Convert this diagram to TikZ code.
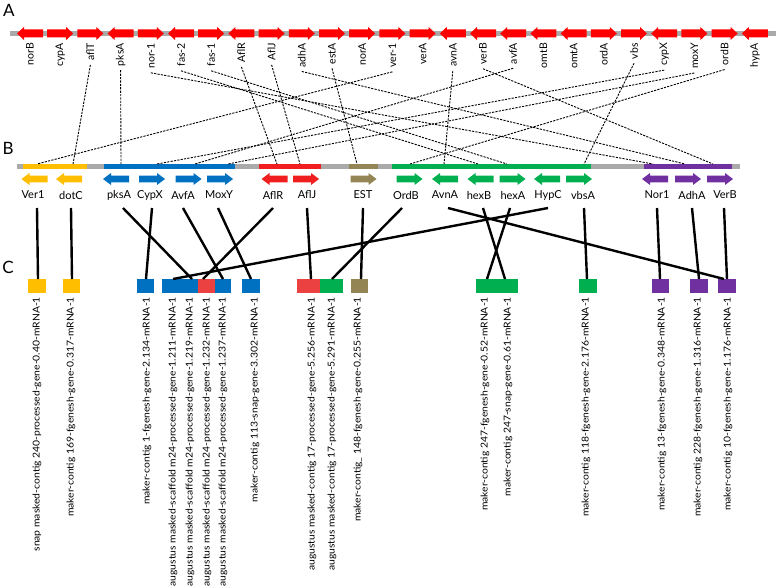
\documentclass[tikz,border=0pt]{standalone}
\usepackage{fontspec}
\setmainfont{Lato}
\usetikzlibrary{calc}
\definecolor{gbar}{RGB}{170,170,170}
\definecolor{ared}{RGB}{255,0,0}
\definecolor{byel}{RGB}{255,190,0}
\definecolor{bblue}{RGB}{0,112,192}
\definecolor{bred}{RGB}{240,30,30}
\definecolor{bolive}{RGB}{148,134,84}
\definecolor{bgreen}{RGB}{0,176,80}
\definecolor{bpurple}{RGB}{112,48,160}
\definecolor{cred}{RGB}{235,65,65}
\newcommand{\wide}[1]{\scalebox{1.09}[1]{#1}}
\tikzset{
 aarr/.pic={\fill (-13,-4) -- (6,-4) -- (6,-6.5) -- (13,0) -- (6,6.5) -- (6,4) -- (-13,4) -- cycle;},
 barr/.pic={\fill (-13,-3.3) -- (5,-3.3) -- (5,-6) -- (13,0) -- (5,6) -- (5,3.3) -- (-13,3.3) -- cycle;},
 alab/.style={rotate=90,anchor=east,font=\fontsize{10.5}{12}\selectfont,inner sep=0pt},
 blab/.style={font=\fontsize{11}{13}\selectfont,inner sep=0pt},
 clab/.style={rotate=90,anchor=east,font=\fontsize{9.5}{11}\selectfont,inner sep=0pt},
 rowlab/.style={font=\fontsize{17}{20}\selectfont,inner sep=0pt},
 cbox/.style={anchor=north west,minimum height=14,inner sep=0pt,draw=none},
 dline/.style={dash pattern=on 2.2pt off 1.2pt,line width=0.9pt},
 sline/.style={line width=2.4pt},
}
\begin{document}
\begin{tikzpicture}[x=1pt,y=-1pt]
\useasboundingbox (0,0) rectangle (778,586);
% row letters
\node[rowlab] (labA) at (9,10) {A};
\node[rowlab] (labB) at (8,148) {B};
\node[rowlab] (labC) at (8,267) {C};
% ---------- row A ----------
\fill[gbar] (10,31.5) rectangle (776,36.5);
\foreach \i/\n/\d in {1/norB/-1,2/cypA/1,3/aflT/1,4/pksA/-1,5/nor-1/1,6/fas-2/-1,7/fas-1/1,8/AflR/-1,9/AflJ/1,10/adhA/1,11/estA/1,12/norA/1,13/ver-1/1,14/verA/1,15/avnA/-1,16/verB/-1,17/avfA/-1,18/omtB/-1,19/omtA/-1,20/ordA/1,21/vbs/1,22/cypX/-1,23/moxY/1,24/ordB/1,25/hypA/-1}{
  \pic[ared,xscale=\d] at ({30+30.2*(\i-1)},33.5) {aarr};
  \node[alab] (a\i) at ({30+30.2*(\i-1)},43) {\n};
}
% ---------- row B ----------
\fill[gbar] (17,164) rectangle (740,169);
\fill[byel] (23,164) rectangle (87,169);
\fill[bblue] (104,164) rectangle (235,169);
\fill[bred] (259,164) rectangle (321,169);
\fill[bolive] (349,164) rectangle (378,169);
\fill[bgreen] (392,164) rectangle (591,169);
\fill[bpurple] (644,164) rectangle (732,169);
\foreach \x/\d/\c in {34.5/-1/byel,69/-1/byel,116/-1/bblue,152/1/bblue,188.5/1/bblue,220/1/bblue,274.5/-1/bred,306/1/bred,363.5/1/bolive,409.5/1/bgreen,445/-1/bgreen,480.5/-1/bgreen,512.5/1/bgreen,547/-1/bgreen,579/1/bgreen,655/-1/bpurple,688/1/bpurple,720/1/bpurple}{
  \pic[\c,xscale=\d] at (\x,179) {barr};
}
\node[blab] (bVer1) at (33,195) {Ver1};
\node[blab] (bdotC) at (71,195) {dotC};
\node[blab] (bpksA) at (119,195) {pksA};
\node[blab] (bCypX) at (150,195) {CypX};
\node[blab] (bAvfA) at (183,195) {AvfA};
\node[blab] (bMoxY) at (219,195) {MoxY};
\node[blab] (bAflR) at (273,195) {AflR};
\node[blab] (bAflJ) at (307,195) {AflJ};
\node[blab] (bEST) at (363,195) {EST};
\node[blab] (bOrdB) at (406,195) {OrdB};
\node[blab] (bAvnA) at (445,195) {AvnA};
\node[blab] (bhexB) at (479,195) {hexB};
\node[blab] (bhexA) at (513,195) {hexA};
\node[blab] (bHypC) at (548,195) {HypC};
\node[blab] (bvbsA) at (583,195) {vbsA};
\node[blab] (bNor1) at (657,195) {Nor1};
\node[blab] (bAdhA) at (692,195) {AdhA};
\node[blab] (bVerB) at (725,195) {VerB};
% targets on B bar
\foreach \n/\x in {Ver1/37,dotC/73,pksA/121,CypX/157,AvfA/195,MoxY/228,AflR/277,AflJ/300,EST/357,OrdB/410,AvnA/444,hexB/478,hexA/507,vbsA/584,Nor1/653,AdhA/685,VerB/713}{
  \coordinate (t\n) at (\x,164);
}
% dashed A -> B
\foreach \a/\t in {13/Ver1,3/dotC,4/pksA,22/CypX,17/AvfA,23/MoxY,8/AflR,9/AflJ,11/EST,24/OrdB,15/AvnA,6/hexB,7/hexA,21/vbsA,5/Nor1,10/AdhA,16/VerB}{
  \draw[dline] ($(a\a.west)+(0,4)$) -- (t\t);
}
% ---------- row C ----------
\node[cbox,fill=byel,minimum width=18] (c1) at (28,279) {};
\node[cbox,fill=byel,minimum width=17] (c2) at (63,279) {};
\node[cbox,fill=bblue,minimum width=17] (c3) at (137,279) {};
\node[cbox,fill=bblue,minimum width=36] (c4) at (162,279) {};
\node[cbox,fill=cred,minimum width=17] (c5) at (198,279) {};
\node[cbox,fill=bblue,minimum width=16] (c6) at (215,279) {};
\node[cbox,fill=bblue,minimum width=18] (c7) at (242,279) {};
\node[cbox,fill=cred,minimum width=23] (c8) at (297,279) {};
\node[cbox,fill=bgreen,minimum width=23] (c9) at (320,279) {};
\node[cbox,fill=bolive,minimum width=17] (c10) at (351,279) {};
\node[cbox,fill=bgreen,minimum width=42] (c11) at (476,279) {};
\node[cbox,fill=bgreen,minimum width=18] (c12) at (579,279) {};
\node[cbox,fill=bpurple,minimum width=17] (c13) at (652,279) {};
\node[cbox,fill=bpurple,minimum width=18] (c14) at (690,279) {};
\node[cbox,fill=bpurple,minimum width=18] (c15) at (718,279) {};
% C labels
\foreach \x/\t in {37/{snap masked-contig 240-processed-gene-0.40-mRNA-1},
 71/{maker-contig 169-fgenesh-gene-0.317-mRNA-1},
 147/{maker-contig 1-fgenesh-gene-2.134-mRNA-1},
 173/{augustus masked-scaffold m24-processed-gene-1.211-mRNA-1},
 190/{augustus masked-scaffold m24-processed-gene-1.219-mRNA-1},
 207/{augustus masked-scaffold m24-processed-gene-1.232-mRNA-1},
 223/{augustus masked-scaffold m24-processed-gene-1.237-mRNA-1},
 255/{maker-contig 113-snap-gene-3.302-mRNA-1},
 312/{augustus masked-contig 17-processed-gene-5.256-mRNA-1},
 332/{augustus masked-contig 17-processed-gene-5.291-mRNA-1},
 358/{maker-contig\_ 148-fgenesh-gene-0.255-mRNA-1},
 485/{maker-contig 247-fgenesh-gene-0.52-mRNA-1},
 508/{maker-contig 247-snap-gene-0.61-mRNA-1},
 586/{maker-contig 118-fgenesh-gene-2.176-mRNA-1},
 662/{maker-contig 13-fgenesh-gene-0.348-mRNA-1},
 698/{maker-contig 228-fgenesh-gene-1.316-mRNA-1},
 728/{maker-contig 10-fgenesh-gene-1.176-mRNA-1}}{
  \node[clab] at (\x,297) {\wide{\t}};
}
% start points under B labels
\foreach \n/\x in {Ver1/37,dotC/71,pksA/123,CypX/152,AvfA/183,MoxY/218,AflR/273,AflJ/307,EST/363,OrdB/402,AvnA/448,hexB/483,hexA/510,HypC/548,vbsA/584,Nor1/657,AdhA/692,VerB/724}{
  \coordinate (s\n) at (\x,208);
}
% solid B -> C
\draw[sline] (sVer1) -- ($(c1.north west)+(10,0)$);
\draw[sline] (sdotC) -- ($(c2.north west)+(9,0)$);
\draw[sline] (spksA) -- ($(c4.north west)+(30,0)$);
\draw[sline] (sCypX) -- ($(c3.north west)+(9,0)$);
\draw[sline] (sAvfA) -- ($(c6.north west)+(8,0)$);
\draw[sline] (sMoxY) -- ($(c7.north west)+(9,0)$);
\draw[sline] (sAflR) -- ($(c5.north west)+(5,0)$);
\draw[sline] (sAflJ) -- ($(c8.north west)+(14,0)$);
\draw[sline] (sEST) -- ($(c10.north west)+(10,0)$);
\draw[sline] (sOrdB) -- ($(c9.north west)+(12,0)$);
\draw[sline] (sHypC) -- ($(c4.north west)+(11,0)$);
\draw[sline] (sAvnA) -- ($(c15.north west)+(6,0)$);
\draw[sline] (shexB) -- ($(c11.north west)+(29,0)$);
\draw[sline] (shexA) -- ($(c11.north west)+(11,0)$);
\draw[sline] (svbsA) -- ($(c12.north west)+(8,0)$);
\draw[sline] (sNor1) -- ($(c13.north west)+(8,0)$);
\draw[sline] (sAdhA) -- ($(c14.north west)+(9,0)$);
\draw[sline] (sVerB) -- ($(c15.north west)+(9,0)$);
\end{tikzpicture}
\end{document}
